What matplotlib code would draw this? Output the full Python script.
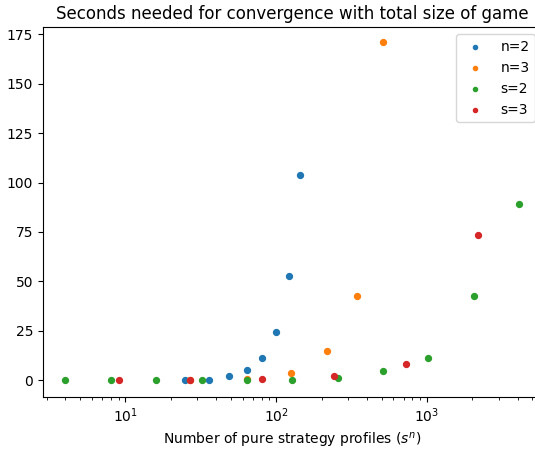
import matplotlib
matplotlib.use('Agg')
from matplotlib import pyplot as plt

# 数据：策略组合数 s^n 与收敛所需秒数
n2_x = [25, 36, 49, 64, 81, 100, 121, 144]
n2_y = [0.4, 0.4, 2.2, 5.1, 11.2, 24.4, 52.7, 104]
n3_x = [27, 64, 125, 216, 343, 512]
n3_y = [0.3, 0.5, 3.5, 14.8, 42.9, 170.8]
s2_x = [4, 8, 16, 32, 64, 128, 256, 512, 1024, 2048, 4096]
s2_y = [0.2, 0.2, 0.2, 0.2, 0.3, 0.3, 1.4, 4.9, 11.2, 42.6, 89.2]
s3_x = [9, 27, 81, 243, 729, 2187]
s3_y = [0.3, 0.3, 0.9, 2.4, 8.1, 73.5]

fig = plt.figure(figsize=(5.35, 4.53), dpi=100)
ax = fig.add_axes([0.080, 0.124, 0.933, 0.816])
ax.scatter(n2_x, n2_y, s=18, label='n=2')
ax.scatter(n3_x, n3_y, s=18, label='n=3')
ax.scatter(s2_x, s2_y, s=18, label='s=2')
ax.scatter(s3_x, s3_y, s=18, label='s=3')
ax.set_xscale('log')
ax.set_xlim(2.83, 5800)
ax.set_ylim(-8.3, 178.5)
ax.set_title('Seconds needed for convergence with total size of game')
ax.set_xlabel('Number of pure strategy profiles ($s^n$)')
ax.legend(loc='upper right', markerscale=0.7)
fig.savefig('out.png', dpi=100)
